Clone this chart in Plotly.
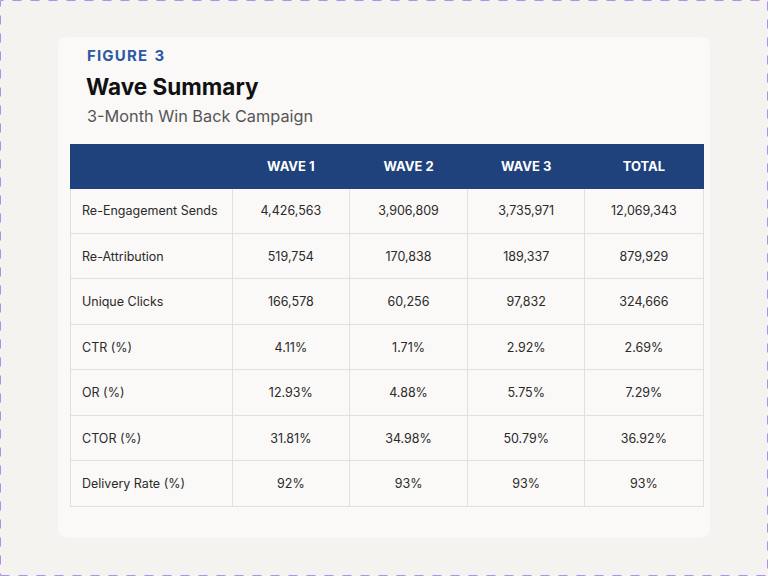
import plotly.graph_objects as go

metrics = ["Re-Engagement Sends", "Re-Attribution", "Unique Clicks", "CTR (%)",
           "OR (%)", "CTOR (%)", "Delivery Rate (%)"]
columns = ["", "WAVE 1", "WAVE 2", "WAVE 3", "TOTAL"]
wave1 = ["4,426,563", "519,754", "166,578", "4.11%", "12.93%", "31.81%", "92%"]
wave2 = ["3,906,809", "170,838", "60,256", "1.71%", "4.88%", "34.98%", "93%"]
wave3 = ["3,735,971", "189,337", "97,832", "2.92%", "5.75%", "50.79%", "93%"]
total = ["12,069,343", "879,929", "324,666", "2.69%", "7.29%", "36.92%", "93%"]

W, H = 768, 576
FONT = "Inter, Lato, 'Noto Sans', sans-serif"
x0, x1 = 70, 703
ytop, ybot = 144, 506
header_h = 44
row_h = (ybot - ytop - header_h) / len(metrics)
colw = [162, 117, 118, 117, 118]
indent = 4
TRANSPARENT = "rgba(0,0,0,0)"

fig = go.Figure()
# grid / fills
fig.add_trace(go.Table(
    domain=dict(x=[x0 / W, x1 / W], y=[1 - (ybot + 4) / H, 1 - ytop / H]),
    columnwidth=colw,
    header=dict(values=[""] * len(columns), fill_color="#1f417c", line_color="#1f417c",
                height=header_h),
    cells=dict(values=[[""] * len(metrics)] * len(columns), fill_color="#faf9f7",
               line_color="#e2e0dc", height=row_h),
))
# text layer, nudged down (and first column indented) so text sits like the reference
hdr_shift, row_shift = 6, 10
fig.add_trace(go.Table(
    domain=dict(x=[(x0 + indent) / W, x1 / W],
                y=[1 - (ybot + 20) / H, 1 - (ytop + hdr_shift) / H]),
    columnwidth=[colw[0] - indent] + colw[1:],
    header=dict(
        values=[f"<b>{c}</b>" for c in columns],
        fill_color=TRANSPARENT, line_color=TRANSPARENT,
        align="center",
        height=header_h + row_shift - hdr_shift,
        font=dict(family=FONT, size=13, color="white"),
    ),
    cells=dict(
        values=[metrics, wave1, wave2, wave3, total],
        fill_color=TRANSPARENT, line_color=TRANSPARENT,
        align=["left", "center", "center", "center", "center"],
        height=row_h,
        font=dict(family=FONT, size=12.5, color="#2a2a2a"),
    ),
))


def rounded(xa, ya, xb, yb, r):
    def p(x, y):
        return f"{x / W},{1 - y / H}"
    return (f"M {p(xa + r, ya)} L {p(xb - r, ya)} Q {p(xb, ya)} {p(xb, ya + r)} "
            f"L {p(xb, yb - r)} Q {p(xb, yb)} {p(xb - r, yb)} L {p(xa + r, yb)} "
            f"Q {p(xa, yb)} {p(xa, yb - r)} L {p(xa, ya + r)} Q {p(xa, ya)} {p(xa + r, ya)} Z")


fig.add_shape(type="path", xref="paper", yref="paper", path=rounded(58, 37, 710, 538, 10),
              fillcolor="#faf9f7", line=dict(width=0), layer="below")
fig.add_shape(type="rect", xref="paper", yref="paper", x0=0.5 / W, y0=0.5 / H,
              x1=1 - 0.5 / W, y1=1 - 0.5 / H,
              line=dict(color="#b48ee8", width=1, dash="dash"), layer="above")

fig.add_annotation(x=85 / W, y=1 - 56 / H, xref="paper", yref="paper", xanchor="left",
                   yanchor="middle", showarrow=False,
                   text="<b>" + "\u200a".join("FIGURE") + "\u2002" + "3</b>",
                   font=dict(family=FONT, size=15, color="#2c5aa5"))
fig.add_annotation(x=84 / W, y=1 - 87 / H, xref="paper", yref="paper", xanchor="left",
                   yanchor="middle", showarrow=False, text="<b>Wave Summary</b>",
                   font=dict(family=FONT, size=22.5, color="#111111"))
fig.add_annotation(x=85 / W, y=1 - 116 / H, xref="paper", yref="paper", xanchor="left",
                   yanchor="middle", showarrow=False, text="3-Month Win Back Campaign",
                   font=dict(family=FONT, size=16.3, color="#555555"))

fig.update_layout(
    width=W, height=H,
    margin=dict(l=0, r=0, t=0, b=0),
    paper_bgcolor="#f4f3f0",
    plot_bgcolor="#f4f3f0",
)
fig.write_html("out.html", config={"displayModeBar": False},
               post_script="document.body.style.margin='0';document.body.style.background='#f4f3f0';")
